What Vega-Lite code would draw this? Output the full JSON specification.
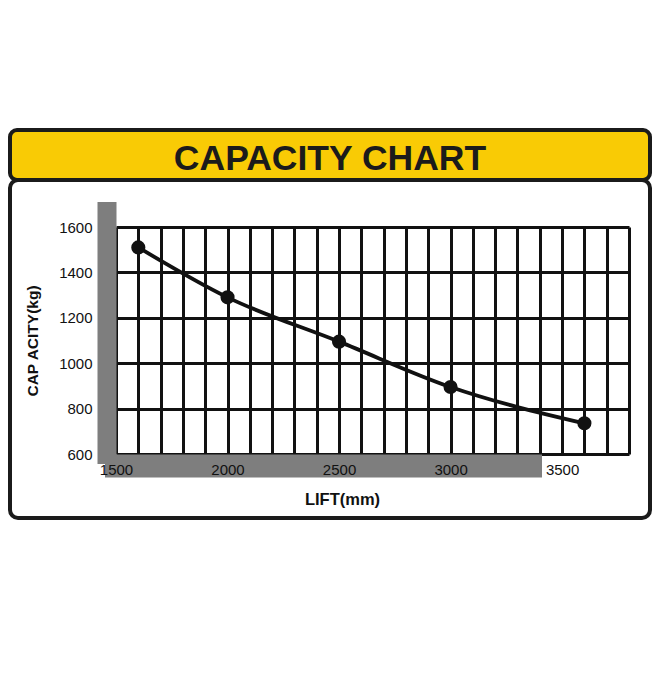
{
  "$schema": "https://vega.github.io/schema/vega-lite/v6.json",
  "padding": {"top": 128, "left": 8, "right": 4, "bottom": 4},
  "background": "white",
  "spacing": -4,
  "bounds": "flush",
  "vconcat": [
    {
      "width": 640,
      "height": 50,
      "view": {"fill": "#F9CB05", "stroke": "#1b1b1b", "strokeWidth": 4, "cornerRadius": 7},
      "data": {"values": [{"label": "CAPACITY CHART"}]},
      "mark": {"type": "text", "font": "Liberation Sans", "fontWeight": "bold", "fontSize": 35.5, "color": "#1b1b1b", "baseline": "middle", "dy": 4},
      "encoding": {"text": {"field": "label", "type": "nominal"}}
    },
    {
      "width": 640,
      "height": 338,
      "view": {"fill": "white", "stroke": "#1b1b1b", "strokeWidth": 4, "cornerRadius": 8},
      "data": {
        "values": [
          {"lift": 1600, "capacity": 1510},
          {"lift": 2000, "capacity": 1290},
          {"lift": 2500, "capacity": 1095},
          {"lift": 3000, "capacity": 895},
          {"lift": 3600, "capacity": 735}
        ]
      },
      "resolve": {
        "scale": {"x": "independent", "y": "independent"},
        "axis": {"x": "independent", "y": "independent"}
      },
      "layer": [
        {
          "mark": {"type": "point", "opacity": 0},
          "encoding": {
            "x": {
              "field": "lift",
              "type": "quantitative",
              "scale": {"domain": [1500, 3800], "range": [106, 520], "nice": false, "zero": false},
              "axis": {
                "orient": "bottom",
                "values": [1500, 3800],
                "grid": false,
                "labels": false,
                "ticks": false,
                "domain": true,
                "domainColor": "#7e7e7e",
                "domainWidth": 23,
                "domainCap": "square",
                "offset": -52.5,
                "title": null,
                "zindex": 0
              }
            },
            "y": {
              "field": "capacity",
              "type": "quantitative",
              "scale": {"domain": [600, 1600], "range": [274, 31], "nice": false, "zero": false},
              "axis": {
                "orient": "left",
                "values": [600, 1600],
                "grid": false,
                "labels": false,
                "ticks": false,
                "domain": true,
                "domainColor": "#7e7e7e",
                "domainWidth": 19,
                "domainCap": "square",
                "offset": -96.5,
                "title": null,
                "zindex": 0
              }
            }
          }
        },
        {
          "mark": {"type": "line", "interpolate": "monotone", "color": "#111111", "strokeWidth": 3.8},
          "encoding": {
            "x": {
              "field": "lift",
              "type": "quantitative",
              "scale": {"domain": [1500, 3800], "range": [106, 619], "nice": false, "zero": false},
              "axis": {
                "orient": "top",
                "values": [1500, 1600, 1700, 1800, 1900, 2000, 2100, 2200, 2300, 2400, 2500, 2600, 2700, 2800, 2900, 3000, 3100, 3200, 3300, 3400, 3500, 3600, 3700, 3800],
                "grid": true,
                "gridColor": "#111111",
                "gridWidth": 3,
                "gridOpacity": 1,
                "labels": false,
                "ticks": false,
                "domain": false,
                "title": null,
                "zindex": 0
              }
            },
            "y": {
              "field": "capacity",
              "type": "quantitative",
              "scale": {"domain": [600, 1600], "range": [274, 47], "nice": false, "zero": false},
              "axis": {
                "orient": "left",
                "values": [600, 800, 1000, 1200, 1400, 1600],
                "grid": true,
                "gridColor": "#111111",
                "gridWidth": 3,
                "gridOpacity": 1,
                "labels": false,
                "ticks": false,
                "domain": false,
                "title": null,
                "zindex": 0
              }
            }
          }
        },
        {
          "mark": {"type": "point", "filled": true, "color": "#111111", "opacity": 1, "size": 200},
          "encoding": {
            "x": {
              "field": "lift",
              "type": "quantitative",
              "scale": {"domain": [1500, 3800], "range": [106, 619], "nice": false, "zero": false},
              "axis": {
                "orient": "bottom",
                "values": [1500, 2000, 2500, 3000, 3500],
                "format": "d",
                "grid": false,
                "domain": false,
                "ticks": false,
                "labelFlush": false,
                "labelFont": "Liberation Sans",
                "labelFontSize": 15,
                "labelColor": "#111111",
                "labelPadding": 8,
                "offset": -64,
                "title": "LIFT(mm)",
                "titleFont": "Liberation Sans",
                "titleFontSize": 16.5,
                "titleFontWeight": "bold",
                "titleColor": "#111111",
                "titlePadding": 14,
                "titleX": 332,
                "zindex": 1
              }
            },
            "y": {
              "field": "capacity",
              "type": "quantitative",
              "scale": {"domain": [600, 1600], "range": [274, 47], "nice": false, "zero": false},
              "axis": {
                "orient": "left",
                "values": [600, 800, 1000, 1200, 1400, 1600],
                "format": "d",
                "grid": false,
                "domain": false,
                "ticks": false,
                "labelFont": "Liberation Sans",
                "labelFontSize": 15,
                "labelColor": "#111111",
                "labelPadding": 24,
                "offset": -106,
                "title": "CAP ACITY(kg)",
                "titleFont": "Liberation Sans",
                "titleFontSize": 15.5,
                "titleFontWeight": "bold",
                "titleColor": "#111111",
                "titlePadding": 18,
                "zindex": 1
              }
            }
          }
        }
      ]
    }
  ]
}
